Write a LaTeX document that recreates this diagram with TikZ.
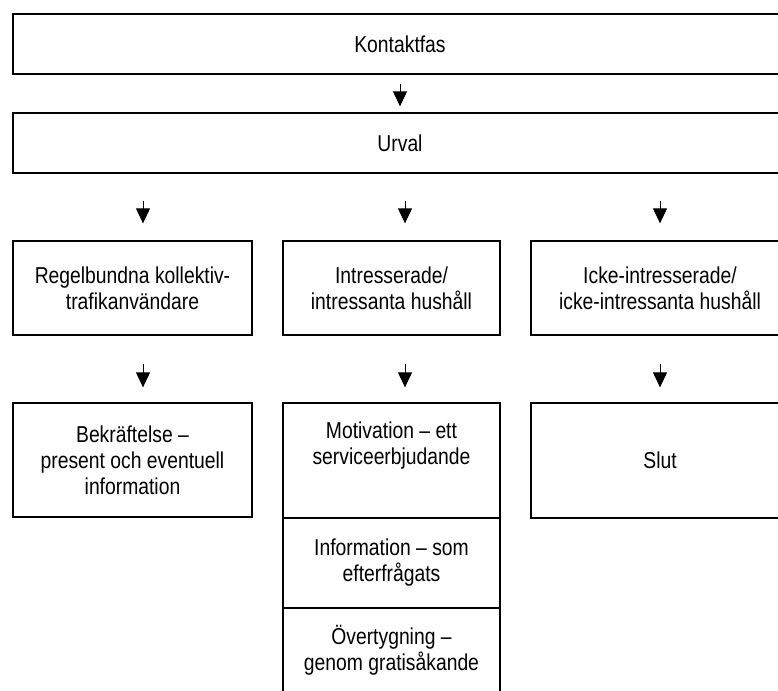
\documentclass[tikz,border=0pt]{standalone}
\usepackage{fontspec}
\setmainfont{Liberation Sans}[FakeStretch=0.84]
\usetikzlibrary{arrows.meta,calc}
\begin{document}
\begin{tikzpicture}[x=1pt,y=1pt,
  box/.style={draw, line width=1.3pt, rectangle, inner sep=0pt, align=center,
    font=\fontsize{23}{26}\selectfont},
  arr/.style={-{Triangle[width=14pt,length=15pt]}, line width=1pt}]
\useasboundingbox (0,0) rectangle (778,-690);
\clip (0,0) rectangle (778,-690);
% top boxes (open to the right)
\node[box, minimum width=774, minimum height=60] (kontakt) at (400,-44) {Kontaktfas};
\node[box, minimum width=774, minimum height=60] (urval) at (400,-143) {Urval};
% row 1
\node[box, minimum width=239, minimum height=94] (regel) at (132.5,-288) {Regelbundna kollektiv-\\trafikanvändare};
\node[box, minimum width=217, minimum height=94] (intr) at (391.5,-288) {Intresserade/\\intressanta hushåll};
\node[box, minimum width=258, minimum height=94] (icke) at (660,-288) {Icke-intresserade/\\icke-intressanta hushåll};
% row 2
\node[box, minimum width=239, minimum height=114] (bekr) at (132.5,-460) {Bekräftelse –\\present och eventuell\\information};
\node[box, minimum width=217, minimum height=115] (motiv) at (391.5,-460.5) {Motivation – ett\\serviceerbjudande\\\strut};
\node[box, minimum width=217, minimum height=90] (info) at (391.5,-563) {Information – som\\efterfrågats};
\node[box, minimum width=217, minimum height=84] (overt) at (391.5,-650) {Övertygning –\\genom gratisåkande};
\node[box, minimum width=258, minimum height=115] (slut) at (660,-460.5) {Slut};
% arrow columns
\coordinate (c1) at (143,0);
\coordinate (c2) at (405,0);
\coordinate (c3) at (660,0);
% connectors
\draw[arr, shorten <=9pt, shorten >=6pt] (kontakt.south) -- (urval.north);
\draw[arr, shorten <=27pt, shorten >=17pt] (urval.south -| c1) -- (regel.north -| c1);
\draw[arr, shorten <=27pt, shorten >=17pt] (urval.south -| c2) -- (intr.north -| c2);
\draw[arr, shorten <=27pt, shorten >=17pt] (urval.south -| c3) -- (icke.north -| c3);
\draw[arr, shorten <=28pt, shorten >=15pt] (regel.south -| c1) -- (bekr.north -| c1);
\draw[arr, shorten <=28pt, shorten >=15pt] (intr.south -| c2) -- (motiv.north -| c2);
\draw[arr, shorten <=28pt, shorten >=15pt] (icke.south -| c3) -- (slut.north -| c3);
\end{tikzpicture}
\end{document}
